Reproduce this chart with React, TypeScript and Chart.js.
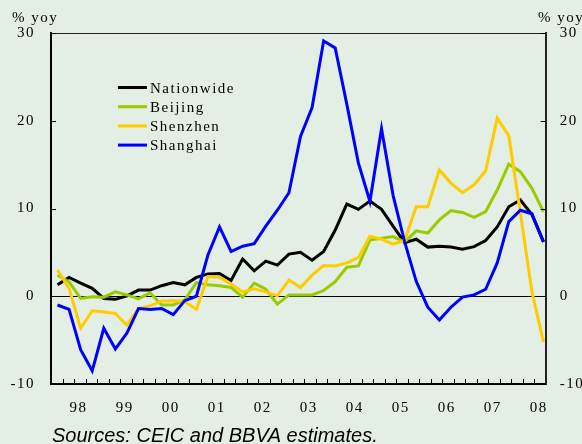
import React, { useEffect, useRef } from 'react';
import { Chart, registerables } from 'chart.js';

Chart.register(...registerables);

// ---- data ----
const seriesNames = ['Nationwide', 'Beijing', 'Shenzhen', 'Shanghai'];
const seriesColors = ['#000000', '#99cc00', '#ffcc00', '#0000ff'];
const yearLabels = ['98', '99', '00', '01', '02', '03', '04', '05', '06', '07', '08'];
const yTickValues = [-10, 0, 10, 20, 30];

const nationwide = [1.3, 2.15, 1.5, 0.9, -0.25, -0.35, 0.05, 0.7, 0.7, 1.2, 1.55, 1.3, 2.15, 2.55, 2.6, 1.8, 4.25, 2.9, 4.0, 3.55, 4.8, 5.0, 4.1, 5.1, 7.55, 10.5, 9.9, 10.85, 9.9, 8.0, 6.1, 6.5, 5.6, 5.7, 5.6, 5.35, 5.65, 6.35, 7.9, 10.2, 10.97, 9.3, 6.2];
const beijing = [2.4, 1.65, -0.25, -0.05, -0.1, 0.5, 0.15, -0.3, 0.4, -1.0, -1.0, -0.4, 1.55, 1.3, 1.2, 1.0, -0.1, 1.5, 0.8, -0.9, 0.15, 0.15, 0.15, 0.65, 1.65, 3.3, 3.45, 6.4, 6.6, 6.8, 6.2, 7.45, 7.2, 8.7, 9.75, 9.55, 9.0, 9.65, 12.1, 15.05, 14.2, 12.3, 9.65];
const shenzhen = [3.0, 0.9, -3.65, -1.65, -1.8, -1.95, -3.3, -1.4, -1.1, -0.55, -0.5, -0.6, -1.5, 2.25, 2.15, 1.4, 0.5, 0.85, 0.5, 0.05, 1.85, 1.0, 2.4, 3.5, 3.45, 3.8, 4.4, 6.85, 6.5, 5.95, 6.35, 10.2, 10.2, 14.4, 12.9, 11.8, 12.7, 14.3, 20.3, 18.3, 9.5, 0.5, -5.2];
const shanghai = [-1.0, -1.5, -6.1, -8.5, -3.65, -6.0, -4.2, -1.4, -1.5, -1.4, -2.1, -0.5, 0.0, 4.7, 7.9, 5.1, 5.7, 6.0, 8.0, 9.8, 11.8, 18.2, 21.5, 29.1, 28.3, 21.9, 15.2, 10.8, 19.1, 11.5, 6.2, 1.7, -1.25, -2.7, -1.25, -0.1, 0.15, 0.8, 3.8, 8.5, 9.8, 9.4, 6.2];

const seriesValues = [nationwide, beijing, shenzhen, shanghai];

// ---- layout constants ----
const BG = '#e3eee5';
const X_MIN = -0.562;
const X_MAX = 42.19;
const N_DIV = 43;
const STEP = (X_MAX - X_MIN) / N_DIV;
const SERIF = "'Liberation Serif', 'Times New Roman', serif";

const decorPlugin = {
  id: 'decor',
  beforeDraw(chart: any) {
    const ctx = chart.ctx;
    ctx.save();
    ctx.fillStyle = BG;
    ctx.fillRect(0, 0, chart.width, chart.height);
    ctx.restore();
    ctx.letterSpacing = '1.5px';
  },
  afterDraw(chart: any) {
    const { ctx, chartArea: ca, scales } = chart;
    ctx.save();
    ctx.strokeStyle = '#000';
    ctx.lineWidth = 1;
    // inward minor ticks on the time axis
    const xs = scales.x;
    ctx.beginPath();
    for (let k = 1; k < N_DIV; k++) {
      const px = Math.round(xs.getPixelForValue(X_MIN + k * STEP)) + 0.5;
      ctx.moveTo(px, ca.bottom);
      ctx.lineTo(px, ca.bottom - 5);
    }
    // inward ticks on both value axes
    const ys = scales.y;
    yTickValues.forEach((v) => {
      const py = Math.round(ys.getPixelForValue(v)) + 0.5;
      ctx.moveTo(ca.left, py);
      ctx.lineTo(ca.left + 5, py);
      ctx.moveTo(ca.right - 5, py);
      ctx.lineTo(ca.right, py);
    });
    ctx.stroke();

    // legend
    ctx.font = `15px ${SERIF}`;
    ctx.fillStyle = '#000';
    ctx.textAlign = 'left';
    ctx.textBaseline = 'alphabetic';
    seriesNames.forEach((name, i) => {
      const y = 87.5 + 19.2 * i;
      ctx.strokeStyle = seriesColors[i];
      ctx.lineWidth = 3;
      ctx.beginPath();
      ctx.moveTo(118, y);
      ctx.lineTo(147, y);
      ctx.stroke();
      ctx.fillText(name, 150, y + 5);
    });

    // unit labels
    ctx.fillText('% yoy', 12, 21.5);
    ctx.fillText('% yoy', 538, 21.5);

    // source note
    ctx.letterSpacing = '0px';
    ctx.font = "italic 20px 'Liberation Sans', Arial, sans-serif";
    ctx.fillText('Sources: CEIC and BBVA estimates.', 52, 441.5);
    ctx.restore();
  },
};

export default function App() {
  const canvasRef = useRef<HTMLCanvasElement | null>(null);

  useEffect(() => {
    const canvas = canvasRef.current;
    if (!canvas) return;
    const tickFont = { family: SERIF, size: 15 };
    const chart = new Chart(canvas, {
      type: 'line',
      data: {
        datasets: seriesNames.map((name, i) => ({
          label: name,
          data: seriesValues[i].map((v, idx) => ({ x: idx, y: v })),
          borderColor: seriesColors[i],
          backgroundColor: seriesColors[i],
          borderWidth: 3,
          pointRadius: 0,
          tension: 0,
          fill: false,
          order: seriesNames.length - 1 - i,
        })),
      },
      options: {
        responsive: false,
        animation: false,
        devicePixelRatio: 1,
        layout: { padding: { top: 33, left: 0, right: 0, bottom: 0 } },
        plugins: { legend: { display: false }, tooltip: { enabled: false }, title: { display: false } },
        scales: {
          x: {
            type: 'linear',
            position: 'bottom',
            min: X_MIN,
            max: X_MAX,
            afterBuildTicks: (s: any) => {
              s.ticks = yearLabels.map((_, j) => ({ value: X_MIN + (2.4 + 4 * j) * STEP }));
            },
            ticks: {
              autoSkip: false,
              maxRotation: 0,
              padding: 15,
              color: '#000',
              font: tickFont,
              callback: (_v: any, i: number) => yearLabels[i],
            },
            grid: { display: true, drawOnChartArea: false, drawTicks: false },
            border: { display: true, color: '#000', width: 2 },
            afterFit: (s: any) => {
              s.height = 60;
            },
          },
          xTop: {
            type: 'linear',
            position: 'top',
            min: X_MIN,
            max: X_MAX,
            ticks: { display: false },
            grid: { display: true, drawOnChartArea: false, drawTicks: false },
            border: { display: true, color: '#222', width: 1 },
            afterFit: (s: any) => {
              s.height = 0;
            },
          },
          y: {
            type: 'linear',
            position: 'left',
            min: -10,
            max: 30,
            afterBuildTicks: (s: any) => {
              s.ticks = yTickValues.map((v) => ({ value: v }));
            },
            ticks: { padding: 16, color: '#000', font: tickFont, callback: (v: any) => String(v) },
            grid: {
              drawTicks: false,
              lineWidth: 1,
              color: (c: any) => (c.tick && c.tick.value === 0 ? '#000' : 'rgba(0,0,0,0)'),
            },
            border: { display: true, color: '#000', width: 2 },
            afterFit: (s: any) => {
              s.width = 51;
            },
          },
          y2: {
            type: 'linear',
            position: 'right',
            min: -10,
            max: 30,
            afterBuildTicks: (s: any) => {
              s.ticks = yTickValues.map((v) => ({ value: v }));
            },
            ticks: { padding: 14, color: '#000', font: tickFont, callback: (v: any) => String(v) },
            grid: { drawOnChartArea: false, drawTicks: false },
            border: { display: true, color: '#222', width: 2 },
            afterFit: (s: any) => {
              s.width = 36.3;
            },
          },
        },
      } as any,
      plugins: [decorPlugin],
    });
    return () => chart.destroy();
  }, []);

  return (
    <div
      style={{
        position: 'fixed',
        left: 0,
        top: 0,
        width: 582,
        height: 444,
        overflow: 'hidden',
        background: BG,
      }}
    >
      <canvas ref={canvasRef} width={582} height={444} style={{ display: 'block', width: 582, height: 444 }} />
    </div>
  );
}
